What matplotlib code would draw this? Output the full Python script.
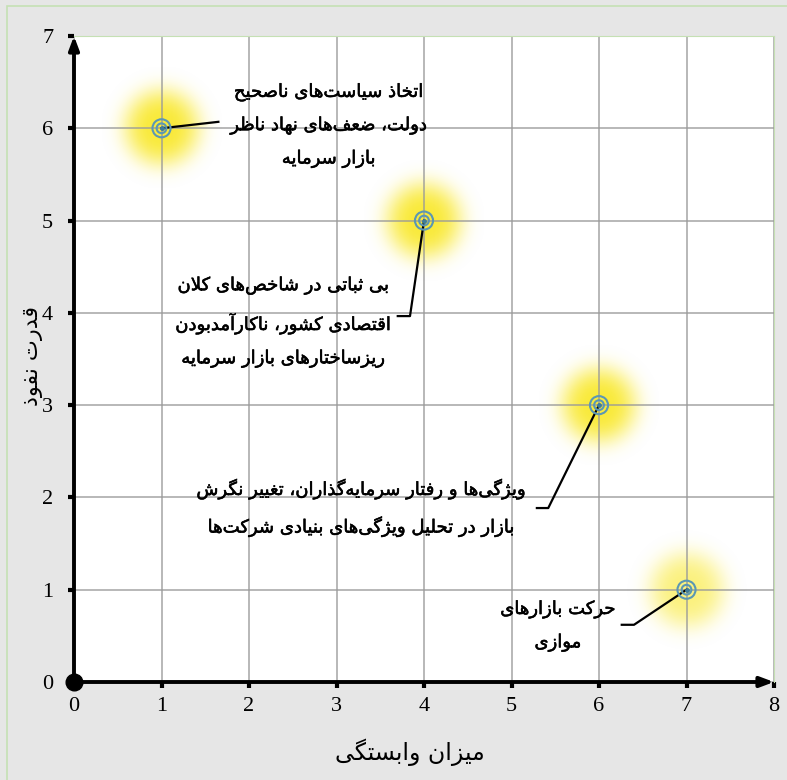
import numpy as np
import matplotlib
matplotlib.use("Agg")
import matplotlib.pyplot as plt
import matplotlib.patheffects as pe
from matplotlib.patches import Rectangle

# داده‌ها
x_vals = [1, 4, 6, 7]
y_vals = [6, 5, 3, 1]
labels = [
    "اتخاذ سیاست‌های ناصحیح\nدولت، ضعف‌های نهاد ناظر\nبازار سرمایه",
    "بی ثباتی در شاخص‌های کلان\nاقتصادی کشور، ناکارآمدبودن\nریزساختارهای بازار سرمایه",
    "ویژگی‌ها و رفتار سرمایه‌گذاران، تغییر نگرش\nبازار در تحلیل ویژگی‌های بنیادی شرکت‌ها",
    "حرکت بازارهای\nموازی",
]
x_ticks = [0, 1, 2, 3, 4, 5, 6, 7, 8]
y_ticks = [0, 1, 2, 3, 4, 5, 6, 7]
x_title = "میزان وابستگی"
y_title = "قدرت نفوذ"

# مکان متن‌ها و خط راهنما
text_pos = [(2.91, 6.03), (2.39, 3.90), (3.28, 1.885), (5.53, 0.607)]
elbow = [None, (3.84, 3.965, 3.70), (5.42, 1.885, 5.29), (6.40, 0.62, 6.26)]
glow_alpha = [0.92, 0.92, 0.92, 0.6]

# --- شکل‌دهی ساده حروف فارسی (matplotlib خودش انجام نمی‌دهد)
FORMS = {
    "ا": ("\uFE8D", "\uFE8E"), "آ": ("\uFE81", "\uFE82"),
    "د": ("\uFEA9", "\uFEAA"), "ذ": ("\uFEAB", "\uFEAC"),
    "ر": ("\uFEAD", "\uFEAE"), "ز": ("\uFEAF", "\uFEB0"),
    "ژ": ("\uFB8A", "\uFB8B"), "و": ("\uFEED", "\uFEEE"),
    "ب": ("\uFE8F", "\uFE90", "\uFE91", "\uFE92"),
    "پ": ("\uFB56", "\uFB57", "\uFB58", "\uFB59"),
    "ت": ("\uFE95", "\uFE96", "\uFE97", "\uFE98"),
    "ث": ("\uFE99", "\uFE9A", "\uFE9B", "\uFE9C"),
    "ج": ("\uFE9D", "\uFE9E", "\uFE9F", "\uFEA0"),
    "چ": ("\uFB7A", "\uFB7B", "\uFB7C", "\uFB7D"),
    "ح": ("\uFEA1", "\uFEA2", "\uFEA3", "\uFEA4"),
    "خ": ("\uFEA5", "\uFEA6", "\uFEA7", "\uFEA8"),
    "س": ("\uFEB1", "\uFEB2", "\uFEB3", "\uFEB4"),
    "ش": ("\uFEB5", "\uFEB6", "\uFEB7", "\uFEB8"),
    "ص": ("\uFEB9", "\uFEBA", "\uFEBB", "\uFEBC"),
    "ض": ("\uFEBD", "\uFEBE", "\uFEBF", "\uFEC0"),
    "ط": ("\uFEC1", "\uFEC2", "\uFEC3", "\uFEC4"),
    "ظ": ("\uFEC5", "\uFEC6", "\uFEC7", "\uFEC8"),
    "ع": ("\uFEC9", "\uFECA", "\uFECB", "\uFECC"),
    "غ": ("\uFECD", "\uFECE", "\uFECF", "\uFED0"),
    "ف": ("\uFED1", "\uFED2", "\uFED3", "\uFED4"),
    "ق": ("\uFED5", "\uFED6", "\uFED7", "\uFED8"),
    "ک": ("\uFB8E", "\uFB8F", "\uFB90", "\uFB91"),
    "گ": ("\uFB92", "\uFB93", "\uFB94", "\uFB95"),
    "ل": ("\uFEDD", "\uFEDE", "\uFEDF", "\uFEE0"),
    "م": ("\uFEE1", "\uFEE2", "\uFEE3", "\uFEE4"),
    "ن": ("\uFEE5", "\uFEE6", "\uFEE7", "\uFEE8"),
    "ه": ("\uFEE9", "\uFEEA", "\uFEEB", "\uFEEC"),
    "ی": ("\uFBFC", "\uFBFD", "\uFBFE", "\uFBFF"),
}
LAM_ALEF = {"ا": ("\uFEFB", "\uFEFC"), "آ": ("\uFEF5", "\uFEF6")}


def dual(c):
    return c in FORMS and len(FORMS[c]) == 4


def shape_line(s):
    out = []
    i = 0
    n = len(s)
    while i < n:
        c = s[i]
        if c not in FORMS:
            if c != "\u200c":
                out.append(c)
            i += 1
            continue
        prev = s[i - 1] if i > 0 else ""
        jp = dual(prev)
        if c == "ل" and i + 1 < n and s[i + 1] in LAM_ALEF:
            out.append(LAM_ALEF[s[i + 1]][1 if jp else 0])
            i += 2
            continue
        nxt = s[i + 1] if i + 1 < n else ""
        jn = dual(c) and nxt in FORMS
        f = FORMS[c]
        if jp and jn:
            out.append(f[3])
        elif jp:
            out.append(f[1])
        elif jn:
            out.append(f[2])
        else:
            out.append(f[0])
        i += 1
    return "".join(out)[::-1]


def fa(s):
    return "\n".join(shape_line(l) for l in s.split("\n"))


fig = plt.figure(figsize=(7.87, 7.80), dpi=100, facecolor="#e6e6e6")
fig.patches.append(Rectangle((7 / 787, -0.1), 2, 1.1 - 6 / 780, transform=fig.transFigure,
                             fill=False, edgecolor="#c5e0b4", lw=1.2))
ax = fig.add_axes([74 / 787, 98 / 780, 700 / 787, 646 / 780])
ax.set_facecolor("white")

# هاله زرد (گرادیان شعاعی)
px_x = 700 / 8
px_y = 646 / 7
R = 60
g = np.linspace(-R, R, 121)
gx, gy = np.meshgrid(g, g)
rr = np.hypot(gx, gy)
for i in range(len(x_vals)):
    img = np.zeros((121, 121, 4))
    img[..., 0] = 249 / 255
    img[..., 1] = 232 / 255
    img[..., 2] = 40 / 255
    img[..., 3] = glow_alpha[i] * np.exp(-(rr / 38) ** 3.5)
    ax.imshow(img, extent=(x_vals[i] - R / px_x, x_vals[i] + R / px_x,
                           y_vals[i] - R / px_y, y_vals[i] + R / px_y),
              aspect="auto", interpolation="bilinear", zorder=0.3)

ax.set_xlim(0, 8)
ax.set_ylim(0, 7)
ax.set_xticks(x_ticks)
ax.set_yticks(y_ticks)
ax.set_axisbelow(True)
ax.grid(True, color="#999999", alpha=0.7, lw=1.4)

for s in ["top", "right"]:
    ax.spines[s].set_color("#c5e0b4")
for s in ["left", "bottom"]:
    ax.spines[s].set_visible(False)

ax.tick_params(direction="out", length=4, width=3, color="black",
               labelsize=16, labelfontfamily="Liberation Serif")
ax.tick_params(axis="x", pad=7)
ax.tick_params(axis="y", pad=11)
ax.tick_params(top=False, right=False)

# محورها با پیکان
arrow = dict(arrowstyle="-|>,head_length=0.8,head_width=0.3", lw=2.8, color="black",
             shrinkA=0, shrinkB=0)
ax.annotate("", xy=(8, 0), xytext=(0, 0), arrowprops=arrow, annotation_clip=False, zorder=5)
ax.annotate("", xy=(0, 7), xytext=(0, 0), arrowprops=arrow, annotation_clip=False, zorder=5)
ax.plot([0], [0], "o", color="black", ms=12, clip_on=False, zorder=6)

ax.scatter(x_vals, y_vals, s=13 ** 2, facecolor="none", edgecolor="#5b97b3", lw=1.5, zorder=4)
ax.scatter(x_vals, y_vals, s=7 ** 2, facecolor="none", edgecolor="#5b97b3", lw=1.5, zorder=4)
ax.scatter(x_vals, y_vals, s=2.5 ** 2, color="#3f7c99", zorder=4)

for i in range(len(x_vals)):
    tx, ty = text_pos[i]
    ax.text(tx, ty, fa(labels[i]), ha="center", va="center", fontsize=13,
            family="DejaVu Sans", linespacing=2.05, zorder=5,
            path_effects=[pe.withStroke(linewidth=0.4, foreground="black")])
    if elbow[i] is None:
        ax.plot([x_vals[i], 1.65], [y_vals[i], 6.07], color="black", lw=1.6, zorder=3)
    else:
        ex, ey, hx = elbow[i]
        ax.plot([x_vals[i], ex, hx], [y_vals[i], ey, ey], color="black", lw=1.6, zorder=3)

fig.text(410 / 787, 1 - 752 / 780, fa(x_title), ha="center", va="center", fontsize=17,
         family="DejaVu Sans")
fig.text(33 / 787, 1 - 356 / 780, fa(y_title), ha="center", va="center", fontsize=16,
         family="DejaVu Sans", rotation=90)

fig.savefig("out.png", dpi=100, facecolor=fig.get_facecolor())
